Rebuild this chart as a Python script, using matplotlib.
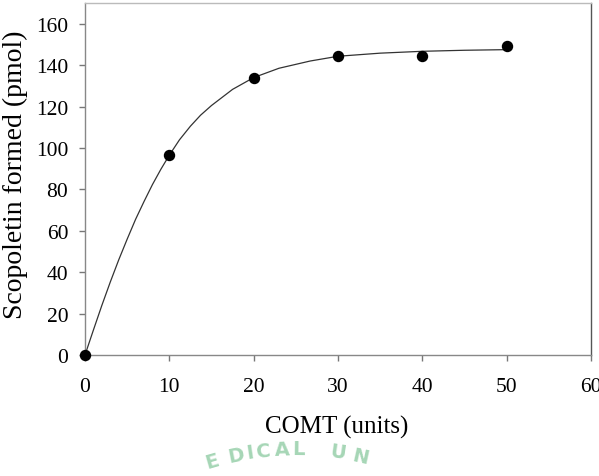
import numpy as np
import matplotlib
matplotlib.use("Agg")
import matplotlib.pyplot as plt

# measured points
comt = [0, 10, 20, 30, 40, 50]
scopoletin = [0, 96.8, 134.0, 144.3, 144.4, 149.3]

# fitted curve
curve_x = [0, 1, 2, 3, 4, 5, 6, 7, 8, 9, 10, 11.2, 12.5, 13.7, 15, 17.5, 20, 23, 26.7, 30, 35, 40, 45, 50]
curve_y = [0, 12.1, 24, 35.3, 46, 56, 65.6, 74.2, 82.4, 89.8, 96.6, 104, 110.6, 115.9, 120.6, 128.4,
           134.1, 138.6, 142.1, 144.4, 145.9, 146.8, 147.3, 147.6]

x_ticks = [0, 10, 20, 30, 40, 50, 60]
y_ticks = [0, 20, 40, 60, 80, 100, 120, 140, 160]

plt.rcParams['font.family'] = ['Liberation Serif', 'DejaVu Serif']

fig = plt.figure(figsize=(5.99, 4.77), dpi=100)
ax = fig.add_axes([85/599, 1 - 356/477, 506/599, (356 - 4.3)/477])

ax.plot(curve_x, curve_y, color='#333333', lw=0.9, zorder=2)
ax.plot(comt, scopoletin, 'o', color='black', ms=7.2, zorder=3, clip_on=False)

ax.set_xlim(0, 60)
ax.set_ylim(0, 170)
ax.set_xticks(x_ticks)
ax.set_yticks(y_ticks)
ax.tick_params(axis='both', direction='out', length=4, width=1, colors='#777777',
               labelcolor='black', labelsize=15.5)
ax.tick_params(axis='x', pad=12)
ax.tick_params(axis='y', pad=8)

ax.spines['left'].set_color('#888888')
ax.spines['bottom'].set_color('#888888')
ax.spines['top'].set_color('#bbbbbb')
ax.spines['right'].set_color('#555555')
for s in ax.spines.values():
    s.set_linewidth(1)

fig.text(337/599, 1 - 427/477, 'COMT (units)', fontsize=18, ha='center', va='center')
fig.text(15/599, 1 - 175/477, 'Scopoletin formed (pmol)', fontsize=20, rotation=90,
         ha='center', va='center')

# faint watermark seal behind the axis label
letters = ['E', 'D', 'I', 'C', 'A', 'L', 'U', 'N']
letter_x = [212, 236, 250, 264, 282, 299, 338, 360]
cx, cy, R = 295, 750, 300
for ch, px in zip(letters, letter_x):
    ang = np.arcsin((px - cx) / R)
    py = cy - R * np.cos(ang)
    fig.text(px/599, 1 - py/477, ch, family='DejaVu Sans', fontweight='bold',
             fontsize=14, color='#a6d6b6', rotation=-np.degrees(ang),
             ha='center', va='center', zorder=0)

fig.savefig('out.png', dpi=100)
